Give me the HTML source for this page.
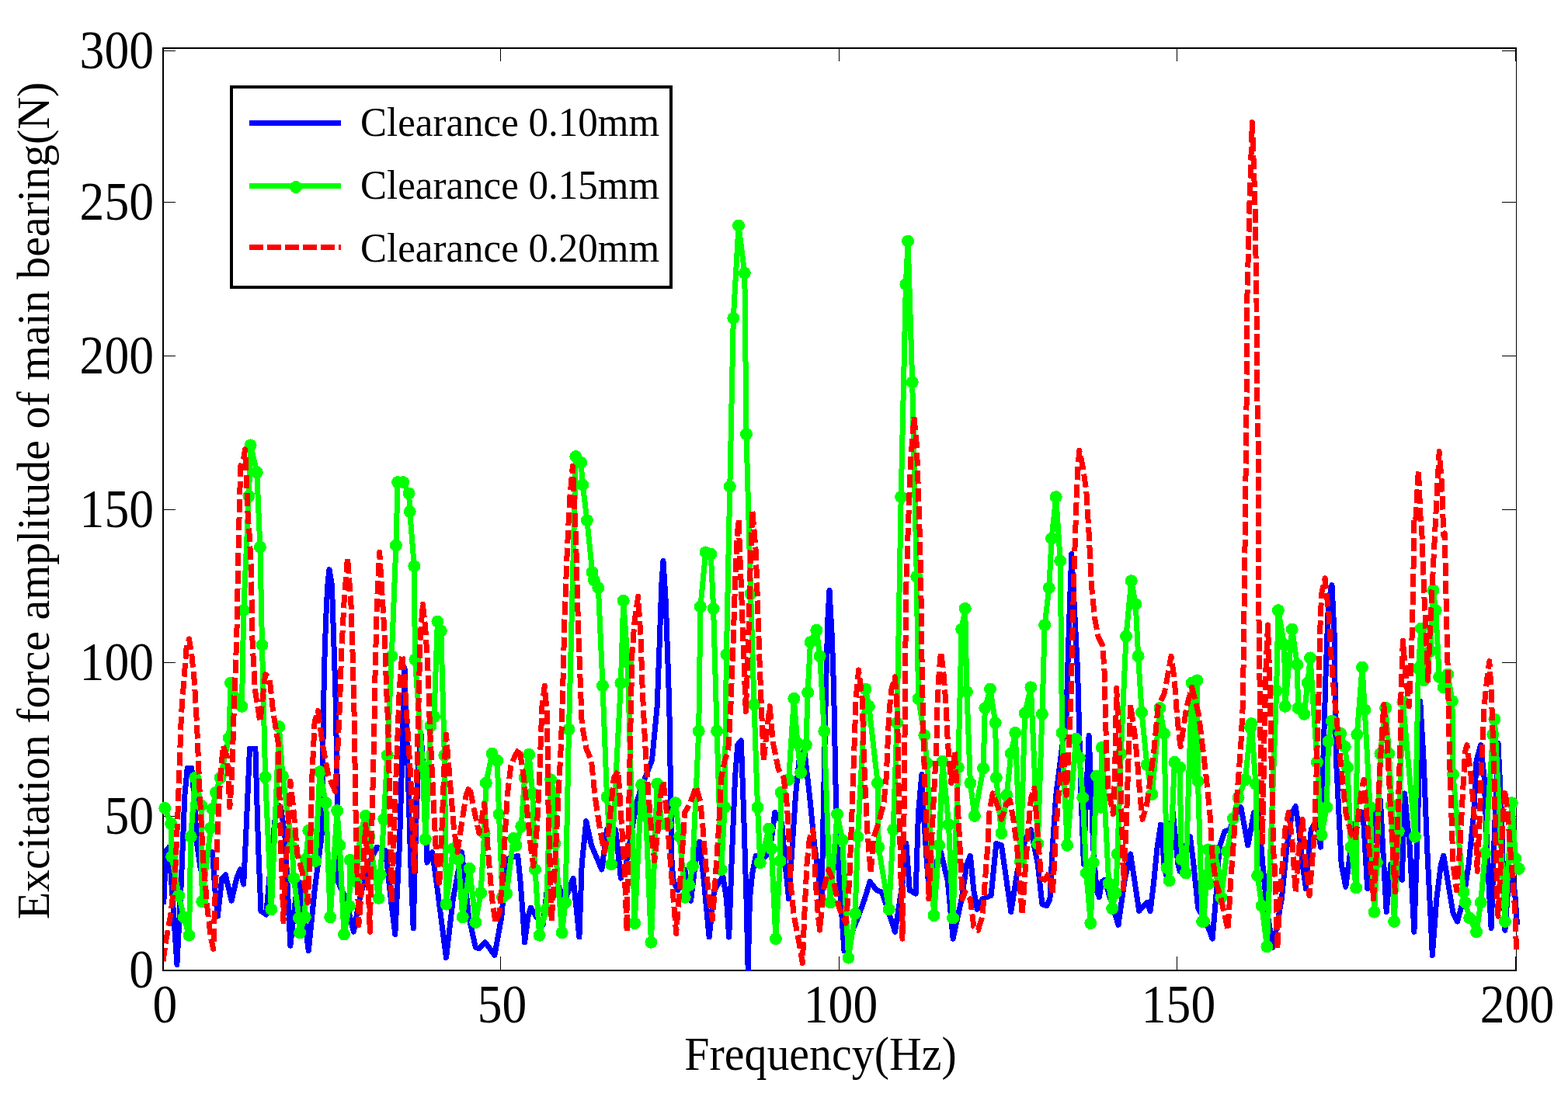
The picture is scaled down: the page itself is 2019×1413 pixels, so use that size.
<!DOCTYPE html>
<html><head><meta charset="utf-8"><title>Excitation force amplitude of main bearing</title>
<style>
html,body{margin:0;padding:0;background:#fff;}
body{width:2019px;height:1413px;overflow:hidden;}
svg{display:block;}
text{font-family:"Liberation Serif","DejaVu Serif",serif;fill:#000;}
</style></head><body>
<svg width="2019" height="1413" viewBox="0 0 2019 1413">
<rect x="0" y="0" width="2019" height="1413" fill="#fff"/>
<g stroke="#000" fill="none" shape-rendering="crispEdges">
<path d="M210,61v1190" stroke-width="2"/>
<path d="M209,62h1744" stroke-width="2"/>
<path d="M209,1250h1744" stroke-width="2"/>
<path d="M1952.5,61v1190" stroke-width="1"/>
<g stroke-width="1">
<path d="M211,65.5h15 M211,260.5h15 M211,458.5h15 M211,656.5h15 M211,853.5h15 M211,1051.5h15"/>
<path d="M1952,65.5h-18 M1952,260.5h-18 M1952,458.5h-18 M1952,656.5h-18 M1952,853.5h-18 M1952,1051.5h-18"/>
<path d="M644.5,1249v-17 M1080.5,1249v-17 M1515.5,1249v-17 M1951.5,1249v-17"/>
<path d="M644.5,63v16 M1080.5,63v16 M1515.5,63v16 M1951.5,63v16"/>
</g>
</g>
<defs><clipPath id="pc"><rect x="211" y="0" width="1808" height="1251"/></clipPath></defs>
<g fill="none" stroke-linejoin="round" stroke-linecap="butt" shape-rendering="crispEdges">
<path d="M210.7,1164.6 L213.8,1095.5 L217.8,1091.1 L227.9,1242.6 L233.4,1135.6 L237.9,1024.2 L241.2,989.6 L246.8,989.6 L250.2,1028.6 L253.5,1086.6 L258.4,1120 L264.6,1104.4 L273.6,1097.7 L276.9,1146.8 L280.3,1180.2 L285.8,1131.2 L290.3,1126.7 L298.1,1160.2 L304.8,1131.2 L309.2,1120 L313.7,1139 L317,1068.8 L321.5,964 L328.9,964 L332.6,1091.1 L336,1173.5 L342.7,1178 L349.4,1102.2 L356.1,1035.3 L361.6,1039.8 L367.2,1079.9 L373.9,1218.1 L380.6,1157.9 L385,1135.6 L391.7,1180.2 L397.3,1224.8 L405.1,1146.8 L414,1077.7 L417.4,865.2 L419.6,798.3 L421.8,753.8 L424,733.7 L427.4,753.8 L429.6,820.6 L431.8,887.5 L434.1,1001.9 L435.2,1135.6 L445.2,1157.9 L455.3,1200.3 L463.1,1157.9 L474.2,1113.3 L485.4,1091.1 L496.5,1095.5 L503.2,1157.9 L508.8,1203.6 L514.3,1091.1 L517.7,979.6 L521,860.8 L525.5,1001.9 L528.8,1113.3 L532.2,1195.8 L535.5,1068.8 L538.9,979.6 L542.2,946.1 L545.5,1001.9 L550,1111.1 L556.7,1097.7 L563.4,1146.8 L574.5,1233.7 L583.4,1157.9 L594.6,1097.7 L603.5,1180.2 L612.4,1220.4 L616.9,1221.5 L624.7,1213.7 L636.9,1230.4 L645.9,1180.2 L652.2,1106.7 L666.7,1102.2 L670.1,1135.6 L673.4,1180.2 L675.6,1213.7 L680.1,1180.2 L683.4,1169.1 L690.1,1180.2 L699,1191.4 L705.7,1135.6 L712.4,1124.5 L721.3,1146.8 L728,1157.9 L738.1,1131.2 L745.9,1207 L749.2,1113.3 L754.8,1057.6 L761.5,1088.8 L768.2,1104.4 L774.8,1120 L781.5,1068.8 L786,1062.1 L792.7,1068.8 L799.4,1131.2 L806.1,1113.3 L819.4,1035.3 L826.1,1013 L839.5,979.6 L846.2,909.8 L849.5,820.6 L851.8,753.8 L854,722.5 L857.3,776.1 L859.6,842.9 L861.8,909.8 L862.9,979.6 L864,1046.5 L865.1,1113.3 L867.4,1135.6 L872.9,1146.8 L881.8,1120 L889.6,1160.2 L895.2,1113.3 L900.8,1084.4 L906.4,1135.6 L913.1,1207 L919.7,1146.8 L930.9,1128.9 L935.4,1157.9 L938.7,1207 L942,1113.3 L946.5,1001.9 L949.8,959.5 L954.3,953.9 L957.6,1046.5 L961,1157.9 L963.2,1250 L965.4,1157.9 L968.8,1124.5 L973.2,1102.2 L979.9,1108.9 L991.1,1097.7 L997.8,1046.5 L1006.7,1059.8 L1011.1,1113.3 L1015.6,1157.9 L1020.1,1091.1 L1024.5,1024.2 L1029,979.6 L1035.7,966.2 L1042.4,1024.2 L1049,1091.1 L1058,1157.9 L1060.2,1046.5 L1063.5,887.5 L1065.8,798.3 L1068,760.4 L1071.3,820.6 L1073.6,887.5 L1075.8,1001.9 L1078,1091.1 L1082.5,1157.9 L1086.9,1224.8 L1104.5,1182.5 L1113.4,1157.9 L1120.1,1135.6 L1129,1146.8 L1135.7,1149 L1144.6,1175.8 L1152.4,1200.3 L1162.4,1135.6 L1166.9,1086.6 L1171.3,1146.8 L1179.1,1151.2 L1182.5,1046.5 L1186.9,997.4 L1189.2,1046.5 L1193.6,1113.3 L1197,1157.9 L1204.8,1113.3 L1211.5,1097.7 L1220.4,1135.6 L1227.1,1209.2 L1238.2,1157.9 L1244.9,1113.3 L1249.4,1102.2 L1253.8,1146.8 L1258.3,1171.3 L1265,1157.9 L1276.1,1153.5 L1282.8,1086.6 L1289.5,1088.8 L1296.2,1135.6 L1301.8,1174.6 L1309.6,1124.5 L1320.7,1079.9 L1327.4,1068.8 L1336.3,1113.3 L1341.9,1164.6 L1347.5,1166.8 L1351.9,1157.9 L1355.3,1091.1 L1359.7,1024.2 L1365.3,979.6 L1373.1,921 L1375.3,842.9 L1377.5,776.1 L1379.8,713.6 L1384.2,798.3 L1387.6,865.2 L1389.8,946.1 L1392,1024.2 L1395.4,1113.3 L1398.7,1024.2 L1402.1,947.3 L1405.4,1024.2 L1407.6,1091.1 L1412.1,1146.8 L1415.4,1155.7 L1418.8,1135.6 L1422.1,1133.4 L1429.9,1157.9 L1440,1191.4 L1447.8,1135.6 L1455.6,1100 L1461.1,1135.6 L1466.7,1173.5 L1476.8,1162.4 L1481.2,1173.5 L1485.7,1135.6 L1490.1,1091.1 L1494.6,1062.1 L1499,1113.3 L1501.3,1126.7 L1510.2,1046.5 L1516.9,1113.3 L1519.1,1122.3 L1523.6,1095.5 L1532.5,1077.7 L1536.9,1113.3 L1542.5,1169.1 L1554.5,1191.4 L1561.1,1209.2 L1565.6,1157.9 L1570.1,1091.1 L1576.8,1071 L1583.4,1068.8 L1590.1,1050.9 L1597.9,1039.8 L1606.8,1088.8 L1614.6,1046.5 L1620.2,1044.2 L1625.8,1113.3 L1632.5,1180.2 L1639.2,1220.4 L1650.3,1157.9 L1657,1091.1 L1663.7,1046.5 L1668.2,1038.7 L1672.6,1068.8 L1677.1,1113.3 L1681.5,1144.6 L1688.2,1068.8 L1694.9,1057.6 L1700.5,1091.1 L1703.8,979.6 L1707.2,865.2 L1710.5,776.1 L1715,753.8 L1718.3,820.6 L1719.4,909.8 L1720.5,979.6 L1723.9,1046.5 L1727.2,1113.3 L1732.8,1142.3 L1739.5,1091.1 L1746.2,1057.6 L1755.1,1046.5 L1760.7,1144.6 L1769.6,1046.5 L1777.4,1030.9 L1781.8,1113.3 L1785.2,1174.6 L1790.8,1113.3 L1797.5,1124.5 L1805.3,1133.4 L1808.6,1021.9 L1815.3,1091.1 L1820.9,1200.3 L1825.3,1068.8 L1827.5,979.6 L1828.7,903.1 L1833.1,979.6 L1837.6,1091.1 L1842,1180.2 L1844.3,1230.4 L1849.8,1157.9 L1855.4,1113.3 L1858.8,1102.2 L1864.3,1135.6 L1871,1175.8 L1876.6,1186.9 L1884.4,1157.9 L1891.1,1113.3 L1897.8,1046.5 L1901.1,979.6 L1906.7,959.5 L1911.1,1001.9 L1915.6,1113.3 L1920.1,1195.8 L1924.5,1068.8 L1929,957.3 L1933.4,1046.5 L1935.7,1135.6 L1937.9,1198.1 L1942.4,1135.6 L1946.8,1117.8 L1951.3,1157.9 L1953.5,1191.4" stroke="#0000ff" stroke-width="7" clip-path="url(#pc)"/>
<path d="M212.3,1040.9 L220.1,1061 L221.2,1103.3 L230.1,1153.5 L236.8,1181.3 L243.5,1204.7 L245.7,1077.7 L251.3,1001.9 L259.1,1037.5 L260.2,1161.3 L271.3,1066.5 L273.6,1042 L278,1020.8 L283.6,1001.9 L294.7,950.6 L297,879.7 L311.5,909.8 L313.7,786.1 L320.4,638.9 L322.6,573.4 L330.8,608.4 L334.9,704.7 L337.5,830.7 L341.6,1000.8 L349.4,1171.3 L359.4,936.1 L363.9,999.6 L376.1,1091.1 L378.3,1131.2 L385,1182.5 L386.1,1201.4 L392.8,1181.3 L393.9,1106.7 L397.3,1069.9 L406.2,1108.9 L411.8,994.1 L419.6,1034.2 L425.2,1181.3 L434.1,1044.2 L437.4,1088.8 L443,1203.6 L449.7,1166.8 L450.8,1107.8 L458.6,1135.6 L464.2,1072.1 L470.9,1050.9 L475.3,1077.7 L487.6,1156.8 L489.8,1126.7 L494.3,1055.4 L498.7,972.9 L504.3,845.2 L509.9,702.5 L512.1,621.1 L519.2,621.1 L526.6,635.6 L527.7,659 L533.3,729.2 L534.4,849.6 L544.4,987.4 L547.8,1081 L554.5,935 L558.9,923.2 L563.4,800.6 L567.8,812.8 L572.3,972.9 L574.5,1164.6 L583.4,1093.3 L590.1,1106.7 L595.7,1181.3 L604.6,1118.9 L612.4,1188 L619.1,1150.1 L623.6,1073.2 L625.8,1008.6 L633.6,970.7 L640.3,979.6 L642.5,1048.7 L647,1155.7 L652.2,1151.2 L661.1,1079.9 L664.5,1088.8 L671.2,1064.3 L675.6,1001.9 L681.2,971.8 L685.7,1021.9 L689,1120 L694.6,1204.7 L703.5,1171.3 L709.1,1004.1 L713.5,1021.9 L714.6,1086.6 L723.6,1201.4 L728,1162.4 L732.5,939.5 L741.4,588.1 L748.1,595.9 L750.3,624.5 L755.9,670.2 L762.6,737 L764.8,747.1 L770.4,757.1 L776,883.1 L781.5,1026.4 L787.1,1113.3 L799.4,879.7 L802.7,773.8 L808.3,853 L817.2,1189.1 L826.1,1010.8 L831.7,1050.9 L838.4,1213.7 L846.2,1009.7 L851.8,1061 L859.6,1062.1 L869.6,1034.2 L875.2,1077.7 L881.8,1155.7 L887.4,1140.1 L891.9,1115.6 L899.7,941.7 L901.9,781.6 L908.6,711.4 L915.3,713.6 L918.6,783.9 L923.1,941.7 L928.7,1120 L933.1,1039.8 L935.4,842.9 L939.8,626.7 L944.3,409.8 L951,290.5 L958.8,351.8 L961,559.1 L966.6,764.9 L971,907.6 L975.5,1039.8 L978.8,1111.1 L990,1067.6 L993.3,1093.3 L998.9,1209.2 L1004.5,1108.9 L1005.6,1020.8 L1015.6,1004.1 L1022.3,899.8 L1026.8,957.3 L1031.2,995.2 L1037.9,959.5 L1040.1,892 L1043.5,827.3 L1051.3,811.7 L1055.7,845.2 L1061.3,941.7 L1069.1,1162.4 L1078,1048.7 L1084.7,1082.1 L1092.5,1233.7 L1101.1,1176.9 L1104.5,1077.7 L1114.5,887.5 L1118.9,909.8 L1130.1,1008.6 L1131.2,1091.1 L1144.6,1171.3 L1150.2,1068.8 L1155,931 L1160.2,640.1 L1166.4,366.3 L1169.1,310.6 L1174.7,492.3 L1180.3,742.6 L1182.5,899.8 L1190.3,947.3 L1193.6,982.9 L1202.5,1179.1 L1209.2,1088.8 L1213.7,980.7 L1221.5,1062.1 L1227.1,1182.5 L1233.8,988.5 L1238.2,810.6 L1242.7,783.9 L1244.9,890.9 L1249.4,1008.6 L1254.9,1050.9 L1266.1,989.6 L1268.3,912 L1275,887.5 L1281.7,931 L1282.8,1001.9 L1289.5,1073.2 L1296.2,1024.2 L1301.8,970.7 L1307.3,943.9 L1314,1110 L1319.6,918.7 L1327.4,885.3 L1336.3,1086.6 L1341.9,919.8 L1345.2,805 L1350.8,757.1 L1354.1,693.6 L1359.7,640.1 L1365.3,722.5 L1367.5,943.9 L1374.2,1088.8 L1385.4,951.7 L1389.8,976.2 L1394.3,1027.5 L1398.7,1124.5 L1404.3,1189.1 L1407.6,1111.1 L1412.1,999.6 L1417.7,1039.8 L1418.8,962.9 L1427.7,1137.9 L1432.2,1170.2 L1436.6,1150.1 L1438.9,1100 L1443.3,970.7 L1450,819.5 L1456.7,748.2 L1462.3,778.3 L1465.6,845.2 L1470.1,917.6 L1476.8,985.2 L1483.4,1023.1 L1493.5,912 L1499,945 L1502.4,1117.8 L1505.7,1134.5 L1512.4,981.8 L1519.1,988.5 L1521.3,1106.7 L1526.9,1124.5 L1534.7,879.7 L1534.7,995.2 L1541.4,876.4 L1542.5,1006.3 L1548.1,1186.9 L1550,1186.9 L1555.6,1094.4 L1556.7,1137.9 L1563.4,1095.5 L1571.2,1130.1 L1572.3,1155.7 L1580.1,1096.6 L1587.9,1054.3 L1594.6,1027.5 L1603.5,1004.1 L1610.2,937.2 L1611.3,932.1 L1616.9,1009.7 L1619.1,1127.8 L1624.7,1166.8 L1631.4,1219.2 L1643.6,889.7 L1645.9,786.1 L1653.7,830.7 L1654.8,909.8 L1663.7,810.6 L1670.4,856.3 L1671.5,912 L1679.3,919.8 L1683.8,879.7 L1687.1,847.4 L1696,981.8 L1701.6,1075.4 L1708.3,1039.8 L1710.5,955.1 L1715,928.8 L1726.1,945 L1731.7,961.8 L1735,988.5 L1739.5,1091.1 L1746.2,1143.4 L1747.3,946.1 L1754,859.6 L1757.3,914.3 L1764,1039.8 L1769.6,1174.6 L1772.9,1111.1 L1777.4,970.7 L1784.1,912 L1788.5,970.7 L1791.9,1037.5 L1795.2,1186.9 L1800.8,1071 L1806.4,904.2 L1822,1077.7 L1826.4,860.8 L1829.8,809.5 L1833.1,876.4 L1842,838.5 L1845.4,760.4 L1848.7,786.1 L1853.2,871.9 L1858.8,885.3 L1864.3,868.6 L1869.9,903.1 L1871,997.4 L1884.4,1149 L1886.6,1162.4 L1892.2,1182.5 L1901.1,1200.3 L1906.7,1162.4 L1912.3,1098.9 L1922.3,946.1 L1924.5,926.5 L1937.9,1186.9 L1946.8,1034.2 L1951.3,1105.5 L1955.7,1118.9" stroke="#00ff00" stroke-width="7" clip-path="url(#pc)"/>
<g fill="#00ff00" stroke="none">
<circle cx="212.3" cy="1040.9" r="8"/><circle cx="220.1" cy="1061" r="8"/><circle cx="221.2" cy="1103.3" r="8"/><circle cx="230.1" cy="1153.5" r="8"/><circle cx="236.8" cy="1181.3" r="8"/><circle cx="243.5" cy="1204.7" r="8"/><circle cx="245.7" cy="1077.7" r="8"/><circle cx="251.3" cy="1001.9" r="8"/><circle cx="259.1" cy="1037.5" r="8"/><circle cx="260.2" cy="1161.3" r="8"/><circle cx="271.3" cy="1066.5" r="8"/><circle cx="273.6" cy="1042" r="8"/><circle cx="278" cy="1020.8" r="8"/><circle cx="283.6" cy="1001.9" r="8"/><circle cx="294.7" cy="950.6" r="8"/><circle cx="297" cy="879.7" r="8"/><circle cx="311.5" cy="909.8" r="8"/><circle cx="313.7" cy="786.1" r="8"/><circle cx="320.4" cy="638.9" r="8"/><circle cx="322.6" cy="573.4" r="8"/><circle cx="330.8" cy="608.4" r="8"/><circle cx="334.9" cy="704.7" r="8"/><circle cx="337.5" cy="830.7" r="8"/><circle cx="341.6" cy="1000.8" r="8"/><circle cx="349.4" cy="1171.3" r="8"/><circle cx="359.4" cy="936.1" r="8"/><circle cx="363.9" cy="999.6" r="8"/><circle cx="376.1" cy="1091.1" r="8"/><circle cx="378.3" cy="1131.2" r="8"/><circle cx="385" cy="1182.5" r="8"/><circle cx="386.1" cy="1201.4" r="8"/><circle cx="392.8" cy="1181.3" r="8"/><circle cx="393.9" cy="1106.7" r="8"/><circle cx="397.3" cy="1069.9" r="8"/><circle cx="406.2" cy="1108.9" r="8"/><circle cx="411.8" cy="994.1" r="8"/><circle cx="419.6" cy="1034.2" r="8"/><circle cx="425.2" cy="1181.3" r="8"/><circle cx="434.1" cy="1044.2" r="8"/><circle cx="437.4" cy="1088.8" r="8"/><circle cx="443" cy="1203.6" r="8"/><circle cx="449.7" cy="1166.8" r="8"/><circle cx="450.8" cy="1107.8" r="8"/><circle cx="458.6" cy="1135.6" r="8"/><circle cx="464.2" cy="1072.1" r="8"/><circle cx="470.9" cy="1050.9" r="8"/><circle cx="475.3" cy="1077.7" r="8"/><circle cx="487.6" cy="1156.8" r="8"/><circle cx="489.8" cy="1126.7" r="8"/><circle cx="494.3" cy="1055.4" r="8"/><circle cx="498.7" cy="972.9" r="8"/><circle cx="504.3" cy="845.2" r="8"/><circle cx="509.9" cy="702.5" r="8"/><circle cx="512.1" cy="621.1" r="8"/><circle cx="519.2" cy="621.1" r="8"/><circle cx="526.6" cy="635.6" r="8"/><circle cx="527.7" cy="659" r="8"/><circle cx="533.3" cy="729.2" r="8"/><circle cx="534.4" cy="849.6" r="8"/><circle cx="544.4" cy="987.4" r="8"/><circle cx="547.8" cy="1081" r="8"/><circle cx="554.5" cy="935" r="8"/><circle cx="558.9" cy="923.2" r="8"/><circle cx="563.4" cy="800.6" r="8"/><circle cx="567.8" cy="812.8" r="8"/><circle cx="572.3" cy="972.9" r="8"/><circle cx="574.5" cy="1164.6" r="8"/><circle cx="583.4" cy="1093.3" r="8"/><circle cx="590.1" cy="1106.7" r="8"/><circle cx="595.7" cy="1181.3" r="8"/><circle cx="604.6" cy="1118.9" r="8"/><circle cx="612.4" cy="1188" r="8"/><circle cx="619.1" cy="1150.1" r="8"/><circle cx="623.6" cy="1073.2" r="8"/><circle cx="625.8" cy="1008.6" r="8"/><circle cx="633.6" cy="970.7" r="8"/><circle cx="640.3" cy="979.6" r="8"/><circle cx="642.5" cy="1048.7" r="8"/><circle cx="647" cy="1155.7" r="8"/><circle cx="652.2" cy="1151.2" r="8"/><circle cx="661.1" cy="1079.9" r="8"/><circle cx="664.5" cy="1088.8" r="8"/><circle cx="671.2" cy="1064.3" r="8"/><circle cx="675.6" cy="1001.9" r="8"/><circle cx="681.2" cy="971.8" r="8"/><circle cx="685.7" cy="1021.9" r="8"/><circle cx="689" cy="1120" r="8"/><circle cx="694.6" cy="1204.7" r="8"/><circle cx="703.5" cy="1171.3" r="8"/><circle cx="709.1" cy="1004.1" r="8"/><circle cx="713.5" cy="1021.9" r="8"/><circle cx="714.6" cy="1086.6" r="8"/><circle cx="723.6" cy="1201.4" r="8"/><circle cx="728" cy="1162.4" r="8"/><circle cx="732.5" cy="939.5" r="8"/><circle cx="741.4" cy="588.1" r="8"/><circle cx="748.1" cy="595.9" r="8"/><circle cx="750.3" cy="624.5" r="8"/><circle cx="755.9" cy="670.2" r="8"/><circle cx="762.6" cy="737" r="8"/><circle cx="764.8" cy="747.1" r="8"/><circle cx="770.4" cy="757.1" r="8"/><circle cx="776" cy="883.1" r="8"/><circle cx="781.5" cy="1026.4" r="8"/><circle cx="787.1" cy="1113.3" r="8"/><circle cx="799.4" cy="879.7" r="8"/><circle cx="802.7" cy="773.8" r="8"/><circle cx="808.3" cy="853" r="8"/><circle cx="817.2" cy="1189.1" r="8"/><circle cx="826.1" cy="1010.8" r="8"/><circle cx="831.7" cy="1050.9" r="8"/><circle cx="838.4" cy="1213.7" r="8"/><circle cx="846.2" cy="1009.7" r="8"/><circle cx="851.8" cy="1061" r="8"/><circle cx="859.6" cy="1062.1" r="8"/><circle cx="869.6" cy="1034.2" r="8"/><circle cx="875.2" cy="1077.7" r="8"/><circle cx="881.8" cy="1155.7" r="8"/><circle cx="887.4" cy="1140.1" r="8"/><circle cx="891.9" cy="1115.6" r="8"/><circle cx="899.7" cy="941.7" r="8"/><circle cx="901.9" cy="781.6" r="8"/><circle cx="908.6" cy="711.4" r="8"/><circle cx="915.3" cy="713.6" r="8"/><circle cx="918.6" cy="783.9" r="8"/><circle cx="923.1" cy="941.7" r="8"/><circle cx="928.7" cy="1120" r="8"/><circle cx="933.1" cy="1039.8" r="8"/><circle cx="935.4" cy="842.9" r="8"/><circle cx="939.8" cy="626.7" r="8"/><circle cx="944.3" cy="409.8" r="8"/><circle cx="951" cy="290.5" r="8"/><circle cx="958.8" cy="351.8" r="8"/><circle cx="961" cy="559.1" r="8"/><circle cx="966.6" cy="764.9" r="8"/><circle cx="971" cy="907.6" r="8"/><circle cx="975.5" cy="1039.8" r="8"/><circle cx="978.8" cy="1111.1" r="8"/><circle cx="990" cy="1067.6" r="8"/><circle cx="993.3" cy="1093.3" r="8"/><circle cx="998.9" cy="1209.2" r="8"/><circle cx="1004.5" cy="1108.9" r="8"/><circle cx="1005.6" cy="1020.8" r="8"/><circle cx="1015.6" cy="1004.1" r="8"/><circle cx="1022.3" cy="899.8" r="8"/><circle cx="1026.8" cy="957.3" r="8"/><circle cx="1031.2" cy="995.2" r="8"/><circle cx="1037.9" cy="959.5" r="8"/><circle cx="1040.1" cy="892" r="8"/><circle cx="1043.5" cy="827.3" r="8"/><circle cx="1051.3" cy="811.7" r="8"/><circle cx="1055.7" cy="845.2" r="8"/><circle cx="1061.3" cy="941.7" r="8"/><circle cx="1069.1" cy="1162.4" r="8"/><circle cx="1078" cy="1048.7" r="8"/><circle cx="1084.7" cy="1082.1" r="8"/><circle cx="1092.5" cy="1233.7" r="8"/><circle cx="1101.1" cy="1176.9" r="8"/><circle cx="1104.5" cy="1077.7" r="8"/><circle cx="1114.5" cy="887.5" r="8"/><circle cx="1118.9" cy="909.8" r="8"/><circle cx="1130.1" cy="1008.6" r="8"/><circle cx="1131.2" cy="1091.1" r="8"/><circle cx="1144.6" cy="1171.3" r="8"/><circle cx="1150.2" cy="1068.8" r="8"/><circle cx="1155" cy="931" r="8"/><circle cx="1160.2" cy="640.1" r="8"/><circle cx="1166.4" cy="366.3" r="8"/><circle cx="1169.1" cy="310.6" r="8"/><circle cx="1174.7" cy="492.3" r="8"/><circle cx="1180.3" cy="742.6" r="8"/><circle cx="1182.5" cy="899.8" r="8"/><circle cx="1190.3" cy="947.3" r="8"/><circle cx="1193.6" cy="982.9" r="8"/><circle cx="1202.5" cy="1179.1" r="8"/><circle cx="1209.2" cy="1088.8" r="8"/><circle cx="1213.7" cy="980.7" r="8"/><circle cx="1221.5" cy="1062.1" r="8"/><circle cx="1227.1" cy="1182.5" r="8"/><circle cx="1233.8" cy="988.5" r="8"/><circle cx="1238.2" cy="810.6" r="8"/><circle cx="1242.7" cy="783.9" r="8"/><circle cx="1244.9" cy="890.9" r="8"/><circle cx="1249.4" cy="1008.6" r="8"/><circle cx="1254.9" cy="1050.9" r="8"/><circle cx="1266.1" cy="989.6" r="8"/><circle cx="1268.3" cy="912" r="8"/><circle cx="1275" cy="887.5" r="8"/><circle cx="1281.7" cy="931" r="8"/><circle cx="1282.8" cy="1001.9" r="8"/><circle cx="1289.5" cy="1073.2" r="8"/><circle cx="1296.2" cy="1024.2" r="8"/><circle cx="1301.8" cy="970.7" r="8"/><circle cx="1307.3" cy="943.9" r="8"/><circle cx="1314" cy="1110" r="8"/><circle cx="1319.6" cy="918.7" r="8"/><circle cx="1327.4" cy="885.3" r="8"/><circle cx="1336.3" cy="1086.6" r="8"/><circle cx="1341.9" cy="919.8" r="8"/><circle cx="1345.2" cy="805" r="8"/><circle cx="1350.8" cy="757.1" r="8"/><circle cx="1354.1" cy="693.6" r="8"/><circle cx="1359.7" cy="640.1" r="8"/><circle cx="1365.3" cy="722.5" r="8"/><circle cx="1367.5" cy="943.9" r="8"/><circle cx="1374.2" cy="1088.8" r="8"/><circle cx="1385.4" cy="951.7" r="8"/><circle cx="1389.8" cy="976.2" r="8"/><circle cx="1394.3" cy="1027.5" r="8"/><circle cx="1398.7" cy="1124.5" r="8"/><circle cx="1404.3" cy="1189.1" r="8"/><circle cx="1407.6" cy="1111.1" r="8"/><circle cx="1412.1" cy="999.6" r="8"/><circle cx="1417.7" cy="1039.8" r="8"/><circle cx="1418.8" cy="962.9" r="8"/><circle cx="1427.7" cy="1137.9" r="8"/><circle cx="1432.2" cy="1170.2" r="8"/><circle cx="1436.6" cy="1150.1" r="8"/><circle cx="1438.9" cy="1100" r="8"/><circle cx="1443.3" cy="970.7" r="8"/><circle cx="1450" cy="819.5" r="8"/><circle cx="1456.7" cy="748.2" r="8"/><circle cx="1462.3" cy="778.3" r="8"/><circle cx="1465.6" cy="845.2" r="8"/><circle cx="1470.1" cy="917.6" r="8"/><circle cx="1476.8" cy="985.2" r="8"/><circle cx="1483.4" cy="1023.1" r="8"/><circle cx="1493.5" cy="912" r="8"/><circle cx="1499" cy="945" r="8"/><circle cx="1502.4" cy="1117.8" r="8"/><circle cx="1505.7" cy="1134.5" r="8"/><circle cx="1512.4" cy="981.8" r="8"/><circle cx="1519.1" cy="988.5" r="8"/><circle cx="1521.3" cy="1106.7" r="8"/><circle cx="1526.9" cy="1124.5" r="8"/><circle cx="1534.7" cy="879.7" r="8"/><circle cx="1534.7" cy="995.2" r="8"/><circle cx="1541.4" cy="876.4" r="8"/><circle cx="1542.5" cy="1006.3" r="8"/><circle cx="1548.1" cy="1186.9" r="8"/><circle cx="1550" cy="1186.9" r="8"/><circle cx="1555.6" cy="1094.4" r="8"/><circle cx="1556.7" cy="1137.9" r="8"/><circle cx="1563.4" cy="1095.5" r="8"/><circle cx="1571.2" cy="1130.1" r="8"/><circle cx="1572.3" cy="1155.7" r="8"/><circle cx="1580.1" cy="1096.6" r="8"/><circle cx="1587.9" cy="1054.3" r="8"/><circle cx="1594.6" cy="1027.5" r="8"/><circle cx="1603.5" cy="1004.1" r="8"/><circle cx="1610.2" cy="937.2" r="8"/><circle cx="1611.3" cy="932.1" r="8"/><circle cx="1616.9" cy="1009.7" r="8"/><circle cx="1619.1" cy="1127.8" r="8"/><circle cx="1624.7" cy="1166.8" r="8"/><circle cx="1631.4" cy="1219.2" r="8"/><circle cx="1643.6" cy="889.7" r="8"/><circle cx="1645.9" cy="786.1" r="8"/><circle cx="1653.7" cy="830.7" r="8"/><circle cx="1654.8" cy="909.8" r="8"/><circle cx="1663.7" cy="810.6" r="8"/><circle cx="1670.4" cy="856.3" r="8"/><circle cx="1671.5" cy="912" r="8"/><circle cx="1679.3" cy="919.8" r="8"/><circle cx="1683.8" cy="879.7" r="8"/><circle cx="1687.1" cy="847.4" r="8"/><circle cx="1696" cy="981.8" r="8"/><circle cx="1701.6" cy="1075.4" r="8"/><circle cx="1708.3" cy="1039.8" r="8"/><circle cx="1710.5" cy="955.1" r="8"/><circle cx="1715" cy="928.8" r="8"/><circle cx="1726.1" cy="945" r="8"/><circle cx="1731.7" cy="961.8" r="8"/><circle cx="1735" cy="988.5" r="8"/><circle cx="1739.5" cy="1091.1" r="8"/><circle cx="1746.2" cy="1143.4" r="8"/><circle cx="1747.3" cy="946.1" r="8"/><circle cx="1754" cy="859.6" r="8"/><circle cx="1757.3" cy="914.3" r="8"/><circle cx="1764" cy="1039.8" r="8"/><circle cx="1769.6" cy="1174.6" r="8"/><circle cx="1772.9" cy="1111.1" r="8"/><circle cx="1777.4" cy="970.7" r="8"/><circle cx="1784.1" cy="912" r="8"/><circle cx="1788.5" cy="970.7" r="8"/><circle cx="1791.9" cy="1037.5" r="8"/><circle cx="1795.2" cy="1186.9" r="8"/><circle cx="1800.8" cy="1071" r="8"/><circle cx="1806.4" cy="904.2" r="8"/><circle cx="1822" cy="1077.7" r="8"/><circle cx="1826.4" cy="860.8" r="8"/><circle cx="1829.8" cy="809.5" r="8"/><circle cx="1833.1" cy="876.4" r="8"/><circle cx="1842" cy="838.5" r="8"/><circle cx="1845.4" cy="760.4" r="8"/><circle cx="1848.7" cy="786.1" r="8"/><circle cx="1853.2" cy="871.9" r="8"/><circle cx="1858.8" cy="885.3" r="8"/><circle cx="1864.3" cy="868.6" r="8"/><circle cx="1869.9" cy="903.1" r="8"/><circle cx="1871" cy="997.4" r="8"/><circle cx="1884.4" cy="1149" r="8"/><circle cx="1886.6" cy="1162.4" r="8"/><circle cx="1892.2" cy="1182.5" r="8"/><circle cx="1901.1" cy="1200.3" r="8"/><circle cx="1906.7" cy="1162.4" r="8"/><circle cx="1912.3" cy="1098.9" r="8"/><circle cx="1922.3" cy="946.1" r="8"/><circle cx="1924.5" cy="926.5" r="8"/><circle cx="1937.9" cy="1186.9" r="8"/><circle cx="1946.8" cy="1034.2" r="8"/><circle cx="1951.3" cy="1105.5" r="8"/><circle cx="1955.7" cy="1118.9" r="8"/>
</g>
<path d="M210,1238.2 L213.4,1213.7 L220.1,1175.8 L225.6,1124.5 L229,1046.5 L233.4,921 L236.8,876.4 L240.1,834 L243.5,822.9 L246.8,842.9 L250.2,876.4 L253.5,932.1 L256.8,1013 L261.3,1102.2 L266.9,1169.1 L271.3,1207 L274.7,1222.6 L276.9,1157.9 L280.3,1068.8 L283.6,1001.9 L287.4,960.6 L292.5,975.1 L295.9,1039.8 L298.5,1001.9 L301.4,909.8 L304.8,820.6 L307,709.2 L309.7,600.9 L313.7,590.5 L315.6,578.9 L317.4,614.3 L318.9,658.9 L321.1,688.6 L323.4,733.2 L324.8,820.6 L328.2,887.5 L334.9,929.9 L341.6,868.6 L347.1,873 L351.6,916.5 L358.3,957.3 L361.6,1091.1 L365,1186.9 L368.3,1113.3 L371.7,1046.5 L373.9,1006.3 L378.3,1046.5 L382.8,1100 L389.5,1124.5 L396.2,1162.4 L399.5,1091.1 L401.8,1001.9 L405.1,929.9 L409.6,915.4 L415.1,957.3 L422.9,999.6 L431.8,1019.7 L435.2,957.3 L437.4,909.8 L439.6,842.9 L443,776.1 L447.5,718.1 L451.9,776.1 L454.1,842.9 L456.4,932.1 L457.5,1024.2 L459.7,1113.3 L461.9,1191.4 L466.4,1135.6 L470.9,1062.1 L476.4,1200.3 L478.7,1068.8 L482,932.1 L483.1,865.2 L485.4,776.1 L488.7,711.4 L492,764.9 L495.4,820.6 L497.6,887.5 L499.8,935 L502.1,1046.5 L504.3,1162.4 L509.9,1001.9 L514.3,887.5 L517.7,842.9 L521,876.4 L524.4,932.1 L528.8,1001.9 L531.1,1068.8 L533.3,1122.3 L535.5,1046.5 L537.7,957.3 L538.9,909.8 L541.1,820.6 L544.4,778.3 L547.8,809.5 L551.1,865.2 L553.3,932.1 L556.7,1001.9 L561.1,1091.1 L565.6,1142.3 L568.9,1068.8 L571.8,990.7 L574.5,946.1 L579,1001.9 L584.6,1068.8 L589,1097.7 L594.6,1059.8 L600.2,1024.2 L604.6,1013 L610.2,1042 L616.9,1073.2 L623.6,1035.3 L628,1091.1 L633.6,1157.9 L638.1,1189.1 L643.6,1173.5 L648.1,1113.3 L653.3,1024.2 L657.8,986.3 L663.4,972.9 L668.9,964 L674.5,1001.9 L679,1046.5 L683.4,1091.1 L686.8,1115.6 L691.2,1068.8 L694.6,1001.9 L697.9,909.8 L701.3,883.1 L704.6,921 L705.7,1024.2 L708,1113.3 L710.2,1186.9 L714.6,1113.3 L719.1,1024.2 L722.5,957.3 L724.7,887.5 L726.9,798.3 L730.3,709.2 L733.6,642.3 L737.4,600.4 L741.4,686.9 L743.6,776.1 L745.9,842.9 L749.2,932.1 L754.8,964 L761.5,979.6 L765.9,1024.2 L772.6,1068.8 L778.2,1097.7 L783.8,1068.8 L790.4,1001.9 L796,993 L799.4,1046.5 L803.8,1113.3 L807.2,1200.3 L808.7,1091.1 L810.5,1001.9 L813.9,842.9 L817.2,798.3 L821.7,768.2 L825,820.6 L827.2,887.5 L830.6,957.3 L835,1024.2 L839.5,1079.9 L842.8,1108.9 L847.3,1068.8 L850.6,1024.2 L854,1006.3 L858.4,1046.5 L861.8,1091.1 L866.2,1146.8 L870.7,1202.5 L874,1157.9 L877.4,1113.3 L881.8,1046.5 L888.5,1035.3 L896.3,1013 L901.9,1033.1 L905.3,1068.8 L908.6,1113.3 L913.1,1157.9 L917.5,1184.7 L920.9,1135.6 L925.3,1068.8 L928.7,1001.9 L933.1,979.6 L937.6,968.4 L940.9,909.8 L944.3,820.6 L946.5,753.8 L948.7,698 L951,669 L954.3,753.8 L957.6,842.9 L960.3,916.5 L963.2,842.9 L966.1,731.5 L968.8,657.9 L973.2,709.2 L975.5,776.1 L977.7,842.9 L979.9,898.7 L983.3,979.6 L991.1,909.8 L995.5,957.3 L1002.2,990.7 L1008.9,1001.9 L1012.3,1024.2 L1015.6,1068.8 L1017.8,1135.6 L1022.3,1180.2 L1026.8,1202.5 L1033.4,1240.4 L1035.7,1180.2 L1039,1113.3 L1042.4,1079.9 L1046.8,1068.8 L1050.2,1135.6 L1053.5,1180.2 L1055.7,1198.1 L1060.2,1146.8 L1066.9,1120 L1073.6,1135.6 L1080.3,1169.1 L1089.2,1189.1 L1093.6,1135.6 L1097,1046.5 L1102.2,898.7 L1105.6,863 L1110,898.7 L1113.4,1001.9 L1116.7,1068.8 L1121.2,1124.5 L1124.5,1079.9 L1131.2,1059.8 L1137.9,1035.3 L1141.2,1001.9 L1144.6,921 L1147.9,887.5 L1152.4,871.9 L1155.7,921 L1156.8,1001.9 L1159.1,1091.1 L1160.6,1157.9 L1162,1209.2 L1163.5,1091.1 L1164.6,1001.9 L1165.8,842.9 L1166.9,753.8 L1169.1,686.9 L1172.5,594.8 L1176.9,536.8 L1180.3,572.5 L1183.6,664.6 L1185.8,753.8 L1186.9,842.9 L1189.2,957.3 L1191.4,1024.2 L1193.6,1091.1 L1195.9,1157.9 L1199.2,1091.1 L1202.5,1024.2 L1205.9,957.3 L1207,909.8 L1209.2,865.2 L1211.5,839.6 L1214.8,865.2 L1218.2,909.8 L1220.4,957.3 L1224.8,1008.6 L1229.3,968.4 L1232.6,1024.2 L1234.9,1068.8 L1237.1,1113.3 L1239.3,1157.9 L1242.7,1149 L1249.4,1157.9 L1253.8,1193.6 L1259.4,1198.1 L1265,1180.2 L1268.3,1135.6 L1271.7,1091.1 L1273.9,1046.5 L1278.3,1021.9 L1285,1039.8 L1289.5,1055.4 L1296.2,1035.3 L1300.6,1030.9 L1305.1,1057.6 L1309.6,1091.1 L1312.9,1135.6 L1316.2,1178 L1320.7,1113.3 L1324,1068.8 L1327.4,1028.6 L1331.8,1015.3 L1334.1,1046.5 L1337.4,1091.1 L1340.8,1131.2 L1345.2,1133.4 L1350.8,1124.5 L1355.3,1151.2 L1357.5,1113.3 L1359.7,1068.8 L1363.1,1024.2 L1366.4,990.7 L1369.7,968.4 L1373.1,1024.2 L1375.3,979.6 L1378.7,909.8 L1380.9,820.6 L1383.1,731.5 L1385.4,664.6 L1387.6,606 L1389.8,580.3 L1394.3,601.5 L1398.7,631.1 L1402.1,686.9 L1405.4,753.8 L1409.9,798.3 L1414.3,820.6 L1419.9,831.8 L1422.1,865.2 L1424.4,957.3 L1426.6,1013 L1433.3,1048.7 L1435.5,1001.9 L1437.7,886.4 L1441.1,957.3 L1443.3,1024.2 L1445.5,1091.1 L1446.7,1144.6 L1450,1068.8 L1452.2,1001.9 L1455.6,907.6 L1461.1,946.1 L1464.5,979.6 L1467.8,1024.2 L1471.2,1055.4 L1476.8,1035.3 L1481.2,1001.9 L1485.7,968.4 L1491.2,909.8 L1499,894.2 L1502.4,876.4 L1508,845.2 L1512.4,876.4 L1514.6,909.8 L1518,946.1 L1520.2,961.8 L1528,909.8 L1534.7,885.3 L1543.6,921 L1553.3,1001.9 L1557.8,1046.5 L1561.1,1102.2 L1565.6,1135.6 L1572.3,1157.9 L1581.2,1198.1 L1584.6,1135.6 L1587.9,1091.1 L1591.2,1046.5 L1594.6,1001.9 L1597.9,957.3 L1600.2,909.8 L1601.3,842.9 L1602.4,753.8 L1603.5,664.6 L1604.6,556.1 L1605.7,466.9 L1605.7,389.8 L1609.1,256.1 L1612.4,157.5 L1615.8,256.1 L1618,389.8 L1618,466.9 L1620.2,578.3 L1620.9,689.8 L1621,800 L1623,950 L1625.5,1085 L1628,950 L1630,860 L1632.5,805 L1635,880 L1637.5,1000 L1640,1100 L1642.5,1135.6 L1644.7,1222.6 L1648.1,1157.9 L1651.4,1113.3 L1654.8,1068.8 L1659.2,1046.5 L1663.7,1079.9 L1668.2,1149 L1672.6,1091.1 L1677.1,1055.4 L1681.5,1113.3 L1686,1153.5 L1689.3,1113.3 L1692.7,1068.8 L1694.9,1001.9 L1698.2,887.5 L1699.4,820.6 L1701.6,764.9 L1706.1,744.8 L1711.6,798.3 L1713.9,842.9 L1717.2,887.5 L1721.7,932.1 L1723.9,957.3 L1728.3,1001.9 L1732.8,1046.5 L1739.5,1073.2 L1745.1,1082.1 L1749.5,1046.5 L1754,1013 L1756.2,1004.1 L1759.6,1046.5 L1762.9,1091.1 L1766.2,1135.6 L1768.5,1157.9 L1772.9,1091.1 L1775.2,1024.2 L1777.4,979.6 L1781.8,907.6 L1786.3,957.3 L1789.6,1024.2 L1793,1091.1 L1796.3,1149 L1798.6,1091.1 L1800.8,1024.2 L1803,957.3 L1804.1,887.5 L1806.4,825.1 L1809.7,865.2 L1814.2,909.8 L1817.5,842.9 L1819.7,753.8 L1820.9,664.6 L1823.1,667.5 L1826.4,605.1 L1829.1,667.5 L1830.9,686.9 L1834.2,776.1 L1837.6,842.9 L1838.7,876.4 L1840.9,820.6 L1844.3,753.8 L1847.6,686.9 L1849.8,645.2 L1853.2,581.7 L1856.5,622.9 L1858.8,689.8 L1860.3,686.9 L1862.1,776.1 L1864.3,865.2 L1866.6,979.6 L1868.8,1046.5 L1871,1113.3 L1875.5,1146.8 L1879.9,1091.1 L1883.3,1024.2 L1886.6,968.4 L1888.9,959.5 L1894.4,1001.9 L1897.8,1046.5 L1901.1,1091.1 L1902.2,1122.3 L1905.6,1046.5 L1907.8,979.6 L1911.1,909.8 L1914.5,876.4 L1917.8,851.8 L1920.1,887.5 L1923.4,979.6 L1925.6,1068.8 L1927.9,1157.9 L1929,1180.2 L1932.3,1113.3 L1935.7,1046.5 L1937.9,1017.5 L1941.2,1046.5 L1944.6,1091.1 L1947.9,1135.6 L1951.3,1180.2 L1952.4,1224.8" stroke="#ff0000" stroke-width="7" stroke-dasharray="17.5,5.5" clip-path="url(#pc)"/>
</g>
<text transform="translate(198,87.6) scale(1,1.1)" font-size="63.6" text-anchor="end">300</text>
<text transform="translate(198,282.9) scale(1,1.1)" font-size="63.6" text-anchor="end">250</text>
<text transform="translate(198,480.8) scale(1,1.1)" font-size="63.6" text-anchor="end">200</text>
<text transform="translate(198,679.1) scale(1,1.1)" font-size="63.6" text-anchor="end">150</text>
<text transform="translate(198,876.4) scale(1,1.1)" font-size="63.6" text-anchor="end">100</text>
<text transform="translate(198,1074.3) scale(1,1.1)" font-size="63.6" text-anchor="end">50</text>
<text transform="translate(198,1272.1) scale(1,1.1)" font-size="63.6" text-anchor="end">0</text>
<text transform="translate(212.5,1317) scale(1,1.1)" font-size="63.6" text-anchor="middle">0</text>
<text transform="translate(646.5,1317) scale(1,1.1)" font-size="63.6" text-anchor="middle">50</text>
<text transform="translate(1082.5,1317) scale(1,1.1)" font-size="63.6" text-anchor="middle">100</text>
<text transform="translate(1517.5,1317) scale(1,1.1)" font-size="63.6" text-anchor="middle">150</text>
<text transform="translate(1953.5,1317) scale(1,1.1)" font-size="63.6" text-anchor="middle">200</text>
<text transform="translate(1056.5,1377.8) scale(1,1.05)" font-size="57.9" text-anchor="middle">Frequency(Hz)</text>
<text transform="translate(62.8,645) rotate(-90) scale(1,1.02)" font-size="57.9" text-anchor="middle">Excitation force amplitude of main bearing(N)</text>
<g shape-rendering="crispEdges">
<rect x="298" y="112" width="566" height="257.7" fill="#fff" stroke="#000" stroke-width="4"/>
<path d="M321,158.5h118" stroke="#0000ff" stroke-width="7" fill="none"/>
<path d="M321,239.5h118" stroke="#00ff00" stroke-width="7" fill="none"/>
<circle cx="381" cy="241" r="8" fill="#00ff00"/>
<path d="M321,318.5h118" stroke="#ff0000" stroke-width="7" stroke-dasharray="17.5,5.5" fill="none"/>
</g>
<text transform="translate(464,175.3) scale(1,1.03)" font-size="51" text-anchor="start">Clearance 0.10mm</text>
<text transform="translate(464,256.3) scale(1,1.03)" font-size="51" text-anchor="start">Clearance 0.15mm</text>
<text transform="translate(464,337.3) scale(1,1.03)" font-size="51" text-anchor="start">Clearance 0.20mm</text>
</svg>
</body></html>
